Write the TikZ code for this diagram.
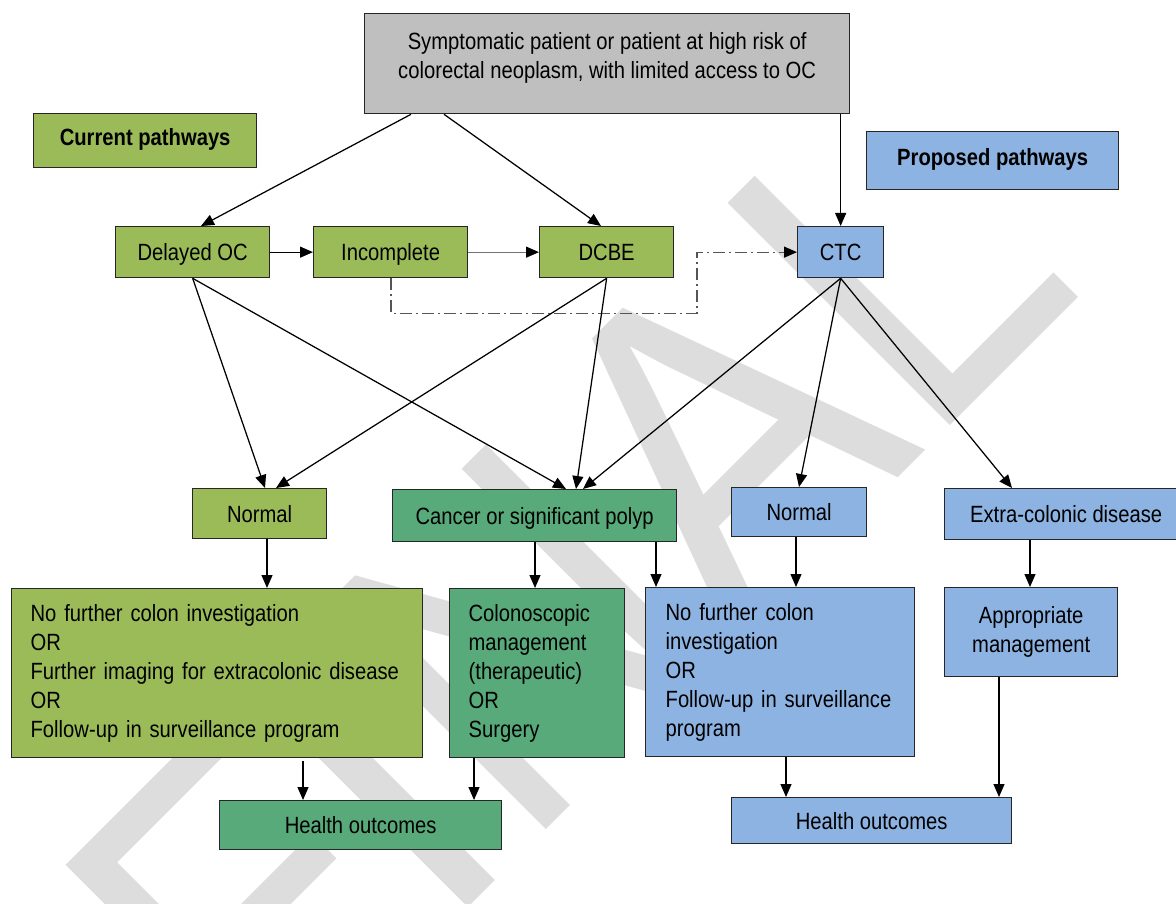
\documentclass[tikz,border=0pt]{standalone}
\usepackage{fontspec}
\setmainfont{Liberation Sans}[FakeStretch=0.86]
\newfontfamily\wmfont{Liberation Sans}[FakeStretch=0.9]
\usetikzlibrary{arrows.meta,calc}
\definecolor{cgreen}{HTML}{9BBB59}
\definecolor{cteal}{HTML}{58AA7A}
\definecolor{cblue}{HTML}{8DB3E2}
\definecolor{cgrey}{HTML}{BFBFBF}
\definecolor{wmc}{HTML}{DDDDDD}
\definecolor{ddc}{HTML}{555555}
\newcommand\myfs{\fontsize{23.5}{29}\selectfont}
\begin{document}
\begin{tikzpicture}[x=1pt,y=-1pt,font=\myfs,
  box/.style={draw=black!85, line width=1.3pt, inner sep=0pt, anchor=north west, text=black},
  one/.style={text height=16.8pt, text depth=0pt},
  head/.style={text height=16.8pt, text depth=8pt, font=\myfs\bfseries},
  multi/.style={align=left},
  arr/.style={line width=1.25pt, -{Triangle[length=13pt,width=11pt]}},
  dd/.style={line width=1.2pt, draw=ddc, dash pattern=on 12pt off 4pt on 2pt off 4pt, -{Triangle[length=13pt,width=11pt,color=black]}}]
\useasboundingbox (0,0) rectangle (1176,904);
\clip (0,0) rectangle (1176,904);
\fill[white] (0,0) rectangle (1176,904);
% watermark
\node[inner sep=0pt, anchor=base west, rotate=45, text=wmc, font=\wmfont\fontsize{457}{457}\selectfont] (wmk) at (264,1112) {FINAL};
% boxes
\node[box, fill=cgrey, minimum width=485pt, minimum height=100pt] (top) at (364,13)
  {\parbox[t][100pt][t]{485pt}{\centering\rule{0pt}{35.4pt}Symptomatic patient or patient at high risk of\\colorectal neoplasm, with limited access to OC}};
\node[box, head, fill=cgreen, minimum width=223pt, minimum height=54pt] (cur) at (33,113) {Current pathways\hspace{20pt}};
\node[box, head, fill=cblue, minimum width=252pt, minimum height=58pt] (prop) at (866,131) {Proposed pathways\hspace{33pt}};
\node[box, one, fill=cgreen, minimum width=154pt, minimum height=51pt] (delayed) at (115,226) {Delayed OC};
\node[box, one, fill=cgreen, minimum width=154pt, minimum height=51pt] (incomplete) at (313,226) {Incomplete};
\node[box, one, fill=cgreen, minimum width=134pt, minimum height=51pt] (dcbe) at (539,226) {DCBE};
\node[box, one, fill=cblue, minimum width=86pt, minimum height=51pt] (ctc) at (797,226) {CTC};
\node[box, one, fill=cgreen, minimum width=134pt, minimum height=50pt] (normalg) at (192,488) {Normal};
\node[box, one, fill=cteal, minimum width=284pt, minimum height=52pt] (cancer) at (392,489) {Cancer or significant polyp};
\node[box, one, fill=cblue, minimum width=135pt, minimum height=49pt] (normalb) at (731,487) {Normal};
\node[box, one, fill=cblue, minimum width=243pt, minimum height=51pt] (extra) at (944,488) {Extra-colonic disease};
\node[box, multi, fill=cgreen, minimum width=411pt, minimum height=169pt, inner xsep=19pt, text width=373pt] (bigg) at (11,588)
  {\mbox{No further colon investigation}\\OR\\\mbox{Further imaging for extracolonic disease}\\OR\\\mbox{Follow-up in surveillance program}};
\node[box, multi, fill=cteal, minimum width=175pt, minimum height=169pt, inner xsep=19pt, text width=137pt] (colono) at (449,588)
  {\mbox{Colonoscopic}\\\mbox{management}\\\mbox{(therapeutic)}\\OR\\Surgery};
\node[box, multi, fill=cblue, minimum width=269pt, minimum height=169pt, inner xsep=20pt, text width=229pt] (bigb) at (645,587)
  {\mbox{No further colon}\\\mbox{investigation}\\OR\\\mbox{Follow-up in surveillance}\\program};
\node[box, align=center, fill=cblue, minimum width=173pt, minimum height=89pt] (approp) at (944,587) {Appropriate\\management};
\node[box, one, fill=cteal, minimum width=282pt, minimum height=49pt] (hog) at (219,800) {Health outcomes};
\node[box, one, fill=cblue, minimum width=280pt, minimum height=46pt] (hob) at (731,797) {Health outcomes};
% connectors
\draw[arr] ($(top.south west)+(47,0)$) -- ($(delayed.north west)+(86,0)$);
\draw[arr] ($(top.south west)+(80,0)$) -- ($(dcbe.north west)+(62,0)$);
\draw[arr] (ctc.north |- top.south) -- (ctc.north);
\draw[arr] (delayed) -- (incomplete);
\draw[arr, draw=black!55, -{Triangle[length=13pt,width=11pt,color=black]}] (incomplete) -- (dcbe);
\draw[dd] ($(incomplete.south west)+(78,0)$) -- ++(0,35) -- ++(306,0) |- (ctc.west);
\draw[arr] (delayed.south) -- ($(normalg.north west)+(73,0)$);
\draw[arr] (delayed.south) -- ($(cancer.north west)+(174,0)$);
\draw[arr] (dcbe.south) -- ($(normalg.north west)+(84,0)$);
\draw[arr] (dcbe.south) -- ($(cancer.north west)+(184,0)$);
\draw[arr] (ctc.south) -- ($(cancer.north west)+(191,0)$);
\draw[arr] (ctc.south) -- ($(normalb.north west)+(68,0)$);
\draw[arr] (ctc.south) -- ($(extra.north west)+(68,0)$);
\draw[arr] ($(normalg.south west)+(75,0)$) -- ($(bigg.north west)+(256,0)$);
\draw[arr] ($(cancer.south west)+(143,0)$) -- ($(colono.north west)+(86,0)$);
\draw[arr] ($(cancer.south west)+(264,0)$) -- ($(bigb.north west)+(11,0)$);
\draw[arr] ($(normalb.south west)+(65,0)$) -- ($(bigb.north west)+(151,0)$);
\draw[arr] ($(extra.south west)+(86,0)$) -- ($(approp.north west)+(86,0)$);
\draw[arr] ($(bigg.south west)+(292,3)$) -- ($(hog.north west)+(84,0)$);
\draw[arr] ($(colono.south west)+(25,0)$) -- ($(hog.north west)+(255,0)$);
\draw[arr] ($(bigb.south west)+(141,0)$) -- ($(hob.north west)+(55,0)$);
\draw[arr] ($(approp.south west)+(55,0)$) -- ($(hob.north west)+(268,0)$);
\end{tikzpicture}
\end{document}
